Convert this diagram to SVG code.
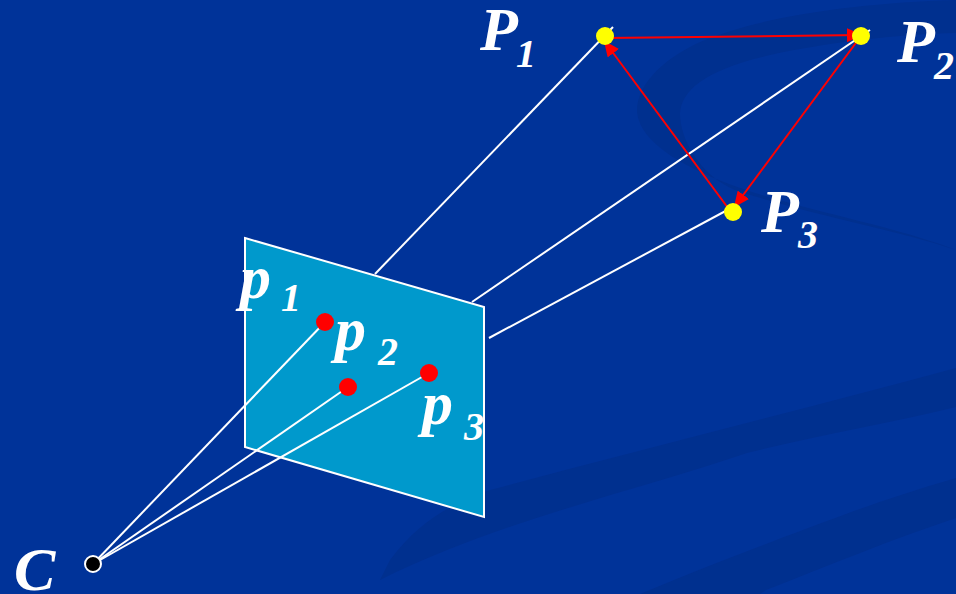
<svg xmlns="http://www.w3.org/2000/svg" width="956" height="594" viewBox="0 0 956 594">
<style>
.sw{fill:#00308f}
.w{stroke:#fff;stroke-width:2;fill:none}
.r{stroke:#f00;stroke-width:2;fill:none;marker-end:url(#a)}
text{font-family:"Liberation Serif","Times New Roman",serif;font-weight:bold;font-style:italic;fill:#fff}
.m{font-size:62px}
.s{font-size:40px}
.ye{fill:#ff0}
.rd{fill:#f00}
</style>
<defs><marker id="a" markerUnits="userSpaceOnUse" markerWidth="16" markerHeight="14" refX="14" refY="7" orient="auto"><path d="M0,0L16,7L0,14z" fill="#f00"/></marker></defs>
<rect width="956" height="594" fill="#039"/>
<g id="background">
<path class="sw" d="M956,0C860,3 770,15 710,38C665,55 636,85 637,112C640,145 690,170 740,188C810,212 890,225 956,250C890,228 810,215 735,190C700,175 680,140 680,113C682,90 705,70 770,55C830,42 900,34 956,33z"/>
<path class="sw" d="M956,368C800,410 640,450 490,490C450,505 420,520 390,560L380,580C500,520 640,490 747,453C820,435 890,423 956,407z"/>
<path class="sw" d="M956,478C880,500 830,520 784,537C750,550 710,565 674,580L640,594H760L766,590C830,565 890,540 956,518z"/>
</g>
<g id="plane"><path d="M245,238L484,307V517L245,447z" fill="#09c" stroke="#fff" stroke-width="2"/></g>
<g id="connectors">
<path class="w" d="M375,274L613,27"/>
<path class="w" d="M472,302L870,30"/>
<path class="w" d="M489,338L733,207"/>
<path class="w" d="M93,564L325,322"/>
<path class="w" d="M93,564L348,387"/>
<path class="w" d="M93,564L429,373"/>
<path class="r" d="M605,38L861,35"/>
<path class="r" d="M861,36L735,206"/>
<path class="r" d="M731,212L605,42"/>
</g>
<g id="P1"><circle class="ye" cx="605" cy="36" r="9"/><text class="m" x="480" y="50">P</text><text class="s" x="516" y="67">1</text></g>
<g id="P2"><circle class="ye" cx="861" cy="36" r="9"/><text class="m" x="897" y="62">P</text><text class="s" x="934" y="79">2</text></g>
<g id="P3"><circle class="ye" cx="733" cy="212" r="9"/><text class="m" x="761" y="232">P</text><text class="s" x="798" y="248">3</text></g>
<g id="p1"><circle class="rd" cx="325" cy="322" r="9"/><text class="m" x="240" y="298">p</text><text class="s" x="281" y="311">1</text></g>
<g id="p2"><circle class="rd" cx="348" cy="387" r="9"/><text class="m" x="335" y="350">p</text><text class="s" x="378" y="365">2</text></g>
<g id="p3"><circle class="rd" cx="429" cy="373" r="9"/><text class="m" x="422" y="424">p</text><text class="s" x="464" y="440">3</text></g>
<g id="C"><circle cx="93" cy="564" r="8" fill="#000" stroke="#fff" stroke-width="2"/><text class="m" x="14" y="590">C</text></g>
</svg>
